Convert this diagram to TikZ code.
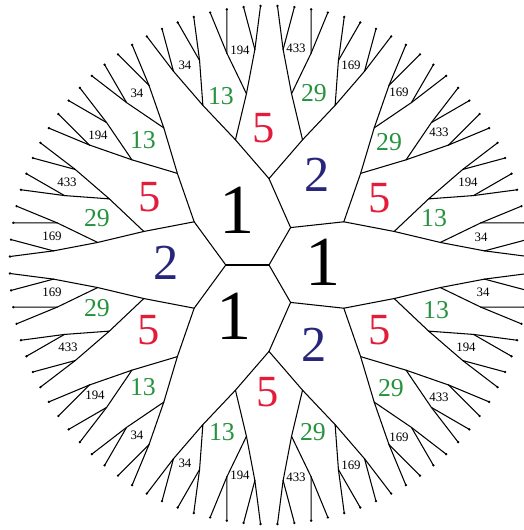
\documentclass[tikz,border=0pt]{standalone}
\usepackage{fontspec}
\setmainfont{Liberation Serif}
\definecolor{mkblue}{RGB}{40,38,122}
\definecolor{mkred}{RGB}{226,28,58}
\definecolor{mkgreen}{RGB}{38,146,62}
\tikzset{
  edge/.style={line width=0.9pt},
  one/.style={font=\fontsize{60}{60}\selectfont},
  two/.style={font=\fontsize{43}{43}\selectfont,text=mkblue},
  five/.style={font=\fontsize{38}{38}\selectfont,text=mkred},
  mid/.style={font=\fontsize{22}{22}\selectfont,text=mkgreen},
  small/.style={font=\fontsize{11}{11}\selectfont,inner sep=1pt}
}

\begin{document}
\begin{tikzpicture}[line cap=round,line join=round]
  \useasboundingbox (-8.07,-7.95) rectangle (7.62,7.95);
  \def\Rs{1.296}
  \coordinate (v-0-0) at (0,0);
  % tree, level by level
  \foreach \d in {1,...,6} {
    \pgfmathtruncatemacro\n{3*2^(\d-1)-1}
    \pgfmathtruncatemacro\pd{\d-1}
    \pgfmathsetmacro\w{120/2^(\d-1)}
    \foreach \j in {0,...,\n} {
      \pgfmathtruncatemacro\pj{floor(\j/2)}
      \ifnum\d=1 \def\pj{0}\fi
      \coordinate (v-\d-\j) at ({120+\w*(\j+0.5)}:{\d*\Rs});
      \draw[edge] (v-\pd-\pj) -- (v-\d-\j);
    }
  }
  \foreach \j in {0,...,95} {
    \fill (v-6-\j) circle (1.1pt);
  }
  % labels
  \node[one] (one-1) at (-0.96,1.65) {1};
  \node[one] (one-2) at (1.62,0.09) {1};
  \node[one] (one-3) at (-1.05,-1.53) {1};
  \node[two] (two-1) at (1.44,2.70) {2};
  \node[two] (two-2) at (-3.09,0.06) {2};
  \node[two] (two-3) at (1.35,-2.40) {2};
  \foreach \p [count=\i] in {(-0.15,4.11),(3.33,2.01),(-3.57,2.04),(-3.60,-1.95),(3.33,-1.95),(-0.03,-3.81)}
    \node[five] (five-\i) at \p {5};
  \foreach \p [count=\i] in {(-1.44,5.07),(-3.78,3.75),(4.95,1.41),(5.01,-1.35),(-3.78,-3.66),(-1.41,-5.01)}
    \node[mid] (ttn-\i) at \p {13};
  \foreach \p [count=\i] in {(1.35,5.16),(3.60,3.69),(-5.16,1.41),(-5.16,-1.29),(3.66,-3.69),(1.32,-5.01)}
    \node[mid] (twn-\i) at \p {29};
  \foreach \p [count=\i] in {(-3.96,5.16),(-2.52,6.00),(6.36,0.84),(6.42,-0.81),(-3.96,-5.10),(-2.52,-5.94)}
    \node[small] (tf-\i) at \p {34};
  \foreach \p [count=\i] in {(-5.13,3.90),(-0.87,6.45),(5.97,2.49),(5.91,-2.46),(-5.22,-3.90),(-0.87,-6.30)}
    \node[small] (onf-\i) at \p {194};
  \foreach \p [count=\i] in {(-6.06,2.49),(0.81,6.51),(5.10,3.99),(5.10,-3.96),(0.81,-6.36),(-6.03,-2.46)}
    \node[small] (ftt-\i) at \p {433};
  \foreach \p [count=\i] in {(-6.51,0.87),(2.46,6.00),(3.90,5.19),(3.90,-5.16),(2.46,-6.00),(-6.51,-0.81)}
    \node[small] (osn-\i) at \p {169};
\end{tikzpicture}
\end{document}
